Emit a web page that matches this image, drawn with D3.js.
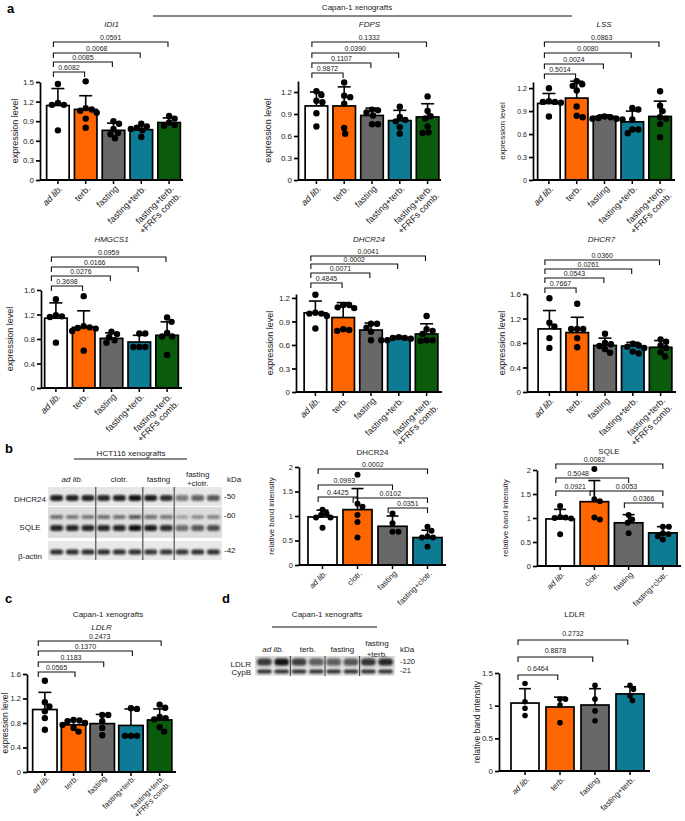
<!DOCTYPE html>
<html><head><meta charset="utf-8">
<script src="https://cdn.jsdelivr.net/npm/d3@7"></script>
<style>body{margin:0;background:#fff} svg{display:block}</style>
</head><body>
<script>
// ================= DATA =================
const catsCapan5 = ["ad lib.","terb.","fasting","fasting+terb.","fasting+terb.\n+FRFs comb."];
const catsCapan4 = ["ad lib.","terb.","fasting","fasting+terb."];
const catsHCT = ["ad lib.","clotr.","fasting","fasting+clotr."];
const barColors = ["#ffffff","#ff6600","#686868","#0c7b93","#0a5b0c"];

// Panel a
const idi1Mean = [1.14,1.08,0.76,0.77,0.88];
const idi1Sd   = [0.26,0.21,0.11,0.06,0.07];
const idi1Pts  = [[1.47,1.15,1.15,1.18,0.76],[1.51,1.10,1.08,1.06,1.03,0.94,0.80],[0.86,0.90,0.78,0.72,0.64,0.70],[0.80,0.82,0.86,0.78,0.76,0.66],[0.98,0.94,0.88,0.83,0.84]];
const idi1P    = ["0.6082","0.0085","0.0068","0.0591"];

const fdpsMean = [1.01,1.01,0.88,0.81,0.86];
const fdpsSd   = [0.19,0.26,0.10,0.14,0.18];
const fdpsPts  = [[1.21,1.16,1.08,1.06,0.91,0.73],[1.33,1.15,1.13,1.04,0.71,0.63],[0.96,0.95,0.92,0.88,0.76,0.76],[1.00,0.86,0.80,0.82,0.72,0.63],[1.14,0.94,0.87,0.84,0.73,0.65,0.64]];
const fdpsP    = ["0.9872","0.1107","0.0390","0.1332"];

const lssMean = [1.00,1.07,0.83,0.76,0.83];
const lssSd   = [0.13,0.22,0.02,0.14,0.20];
const lssPts  = [[1.20,1.03,1.02,1.02,1.01,0.83],[1.25,1.29,1.23,1.17,0.96,0.82,0.84],[0.83,0.82,0.81,0.80,0.79,0.80],[0.94,0.92,0.79,0.61,0.66,0.66],[1.16,0.97,0.90,0.82,0.80,0.73,0.56]];
const lssP    = ["0.5014","0.0024","0.0080","0.0863"];

const hmgMean = [1.14,0.99,0.81,0.75,0.86];
const hmgSd   = [0.25,0.27,0.09,0.11,0.22];
const hmgPts  = [[1.45,1.17,1.16,1.19,0.74],[1.50,1.01,0.99,0.98,0.97,0.93,0.61],[0.92,0.88,0.83,0.78,0.74],[0.89,0.89,0.67,0.67,0.67],[1.15,1.08,0.90,0.84,0.84,0.54]];
const hmgP    = ["0.3698","0.0276","0.0166","0.0959"];

const dh24Mean = [1.01,0.95,0.79,0.68,0.74];
const dh24Sd   = [0.15,0.19,0.09,0.03,0.13];
const dh24Pts  = [[1.24,1.01,1.00,1.00,0.97,0.81],[1.11,1.11,1.08,1.07,0.80,0.78,0.79],[0.87,0.87,0.82,0.77,0.66],[0.70,0.69,0.69,0.68,0.66,0.66],[0.97,0.80,0.78,0.66,0.65,0.66,0.74]];
const dh24P    = ["0.4845","0.0071","0.0002","0.0041"];

const dh7Mean = [1.03,0.97,0.76,0.75,0.73];
const dh7Sd   = [0.30,0.25,0.12,0.06,0.11];
const dh7Pts  = [[1.53,1.13,1.07,0.88,0.72],[1.44,1.03,1.03,1.03,0.88,0.73],[0.95,0.80,0.78,0.75,0.70,0.64],[0.79,0.76,0.74,0.72,0.66,0.63],[0.86,0.82,0.76,0.72,0.65,0.58]];
const dh7P    = ["0.7667","0.0543","0.0261","0.0360"];

// Panel b
const bDhMean = [0.98,1.13,0.79,0.56];
const bDhSd   = [0.14,0.43,0.21,0.15];
const bDhPts  = [[1.13,1.05,1.02,0.97,0.97,0.76],[1.84,1.25,1.19,1.02,0.88,0.56],[1.05,0.85,0.68,0.68],[0.78,0.70,0.56,0.56,0.58,0.37]];
const bDhComp = [[0,1,"0.4425"],[0,2,"0.0993"],[0,3,"0.0002"],[1,3,"0.0102"],[2,3,"0.0351"]];

const bSqMean = [0.98,1.34,0.90,0.69];
const bSqSd   = [0.20,0.44,0.17,0.13];
const bSqPts  = [[1.25,1.02,1.01,1.00,0.99,0.66],[2.02,1.39,1.35,0.97,1.01],[1.06,0.97,0.90,0.68],[0.82,0.82,0.68,0.66,0.62,0.55]];
const bSqComp = [[0,1,"0.0921"],[0,2,"0.5048"],[0,3,"0.0082"],[1,3,"0.0053"],[2,3,"0.0366"]];

// Panel c
const cLdMean = [1.02,0.77,0.79,0.76,0.85];
const cLdSd   = [0.28,0.08,0.15,0.27,0.18];
const cLdPts  = [[1.49,1.14,1.07,0.99,0.88,0.69],[0.85,0.84,0.83,0.80,0.77,0.72,0.66],[0.93,0.93,0.83,0.72,0.60],[1.04,1.03,0.59,0.59,0.59],[1.10,1.05,0.90,0.88,0.86,0.73,0.66]];
const cLdP    = ["0.0565","0.1183","0.1370","0.2473"];

// Panel d
const dLdMean = [1.04,0.98,1.01,1.18];
const dLdSd   = [0.22,0.15,0.25,0.11];
const dLdPts  = [[1.34,1.06,0.96,0.85],[1.10,1.10,1.01,0.74],[1.31,1.10,0.92,0.77],[1.31,1.25,1.15,1.08]];
const dLdComp = [[0,1,"0.6464"],[0,2,"0.8878"],[0,3,"0.2732"]];

// Western blots (relative band darkness per lane)
const blotBGroups = ["ad lib.","clotr.","fasting","fasting\n+clotr."];
const blotBLanes  = [3,3,2,3];
const blotBRowNames = ["DHCR24","SQLE","β-actin"];
const blotBMarkers  = ["-50","-60","-42"];
const blotBDhcr24   = [0.92,0.90,0.90,0.88,0.90,0.97,0.92,0.85,0.50,0.62,0.66];
const blotBSqleUp   = [0.55,0.45,0.45,0.55,0.48,0.65,0.55,0.50,0.25,0.35,0.40];
const blotBSqleLow  = [0.88,0.88,0.88,0.88,0.88,0.98,0.92,0.85,0.55,0.65,0.70];
const blotBActin    = [0.85,0.85,0.85,0.85,0.85,0.85,0.82,0.82,0.82,0.85,0.85];

const blotDGroups = ["ad lib.","terb.","fasting","fasting\n+terb."];
const blotDLanes  = [2,2,2,2];
const blotDRowNames = ["LDLR","CypB"];
const blotDMarkers  = ["-120","-21"];
const blotDLdlr = [0.80,0.97,0.78,0.62,0.62,0.66,0.82,0.88];
const blotDCypb = [0.85,0.85,0.85,0.85,0.85,0.85,0.85,0.85];

// ================= DRAWING =================
const FONT = "'Liberation Sans', Arial, Helvetica, sans-serif";
const TXT = "#222";
const svg = d3.select("body").append("svg").attr("width",685).attr("height",821)
  .style("font-family",FONT);
const defs = svg.append("defs");
defs.append("filter").attr("id","blur").attr("x","-30%").attr("y","-150%").attr("width","160%").attr("height","400%")
  .append("feGaussianBlur").attr("stdDeviation",1.0);

function text(g, x, y, s, size, opts={}) {
  return g.append("text").attr("x",x).attr("y",y).attr("text-anchor",opts.anchor||"middle")
    .style("font-size",size+"px").style("font-style",opts.italic?"italic":"normal")
    .style("font-weight",opts.bold?"bold":"normal").attr("fill",opts.fill||TXT).text(s);
}

function barChart(L, D) {
  const g = svg.append("g");
  const y = d3.scaleLinear().domain([0,L.max]).range([L.yBot,L.yTop]);
  const idx = D.mean.map((_,i)=>i);
  const x = d3.scaleBand().domain(idx).range([L.x0,L.x1]).paddingInner(L.pad).paddingOuter(L.pad/2);
  const bw = x.bandwidth(), cx = i => x(i)+bw/2;

  // title
  text(g,(L.ax+L.axEnd)/2,L.titleY,D.title,L.titleSize,{italic:L.titleItalic});

  // brackets
  const bg = g.append("g");
  D.comp.forEach((c,k)=>{
    const [i,j,p] = c;
    const xa = x(i)+bw*L.lf, xb = x(j)+bw*L.rf, yy = L.brY[k];
    bg.append("path").attr("d",`M${xa},${yy+L.brTick}V${yy}H${xb}V${yy+L.brTick}`)
      .attr("fill","none").attr("stroke","#111").attr("stroke-width",1.1);
    text(bg,(xa+xb)/2+(L.brDx?L.brDx[k]:0),yy-L.labGap,p,L.brSize);
  });

  // bars
  g.append("g").selectAll("rect").data(D.mean).join("rect")
    .attr("x",(d,i)=>x(i)).attr("y",d=>y(d)).attr("width",bw).attr("height",d=>L.yBot-y(d))
    .attr("fill",(d,i)=>D.colors[i]).attr("stroke","#000").attr("stroke-width",1.7);

  // error bars (mean + SD)
  const eg = g.append("g").attr("stroke","#000").attr("stroke-width",1.6);
  D.mean.forEach((m,i)=>{
    const top = y(m+D.sd[i]);
    eg.append("line").attr("x1",cx(i)).attr("x2",cx(i)).attr("y1",y(m)).attr("y2",top);
    eg.append("line").attr("x1",cx(i)-L.cap/2).attr("x2",cx(i)+L.cap/2).attr("y1",top).attr("y2",top);
  });

  // individual points, spread horizontally so they don't overlap
  D.pts.forEach((arr,i)=>{
    const placed=[];
    arr.map(v=>({v,py:y(v)})).sort((a,b)=>a.py-b.py).forEach(p=>{
      let best=0, done=false;
      for (let s=0; s<=bw && !done; s+=0.5) {
        for (const sg of [1,-1]) {
          const off=s*sg;
          if (placed.every(q=>(q.px-off)**2+(q.py-p.py)**2 >= (2*L.r*0.92)**2)) { best=off; done=true; break; }
        }
      }
      p.px=best; placed.push(p);
    });
    g.append("g").selectAll("circle").data(placed).join("circle")
      .attr("cx",p=>cx(i)+p.px).attr("cy",p=>p.py).attr("r",L.r).attr("fill","#000");
  });

  // y axis
  const ya = g.append("g").attr("transform",`translate(${L.ax},0)`)
    .call(d3.axisLeft(y).tickValues(d3.range(0,L.max+1e-9,L.step)).tickSize(L.tk).tickSizeOuter(0).tickPadding(2).tickFormat(d3.format("~g")));
  ya.selectAll("path,line").attr("stroke","#000").attr("stroke-width",1.7);
  ya.selectAll("text").style("font-size",L.tickSize+"px").style("font-family",FONT).attr("fill",TXT);

  // x axis
  g.append("line").attr("x1",L.ax).attr("x2",L.axEnd).attr("y1",L.yBot).attr("y2",L.yBot)
    .attr("stroke","#000").attr("stroke-width",1.9);
  idx.forEach(i=>g.append("line").attr("x1",cx(i)).attr("x2",cx(i)).attr("y1",L.yBot).attr("y2",L.yBot+L.tk)
    .attr("stroke","#000").attr("stroke-width",1.5));
  D.cats.forEach((c,i)=>{
    const t = g.append("text").attr("transform",`translate(${cx(i)+L.lx},${L.yBot+L.ly}) rotate(-45)`)
      .attr("text-anchor","end").style("font-size",L.xSize+"px").attr("fill",TXT);
    c.split("\n").forEach((ln,j)=>t.append("tspan").attr("x",0).attr("dy",j?"1.1em":"0.35em")
      .style("font-style",ln==="ad lib."?"italic":"normal").text(ln));
  });

  // y label
  g.append("text").attr("transform",`translate(${L.ylx},${(L.yTop+L.yBot)/2}) rotate(-90)`)
    .attr("text-anchor","middle").attr("dy","0.35em").style("font-size",L.ylSize+"px").attr("fill",TXT).text(D.ylab);
}

const A = {pad:0.19, tk:4, r:3.2, cap:13, tickSize:8, xSize:9, ylSize:9, titleSize:8, brSize:7, brTick:5,
           labGap:2.5, lf:0.3, rf:0.45, lx:3, ly:7, titleItalic:true};
const comp5 = p => [[0,1,p[0]],[0,2,p[1]],[0,3,p[2]],[0,4,p[3]]];
const EXP = "expression level", RBI = "relative band intensity";

barChart({...A, ax:40, axEnd:183, x0:44, x1:183, yTop:82, yBot:180, max:1.5, step:0.3, titleY:27, brY:[72,62,53,42], ylx:15},
  {title:"IDI1", ylab:EXP, cats:catsCapan5, colors:barColors, mean:idi1Mean, sd:idi1Sd, pts:idi1Pts, comp:comp5(idi1P)});
barChart({...A, ax:298, axEnd:441, x0:302.5, x1:441.5, yTop:81, yBot:180, max:1.35, step:0.3, titleY:27, brY:[73,63,53,42], ylx:268},
  {title:"FDPS", ylab:EXP, cats:catsCapan5, colors:barColors, mean:fdpsMean, sd:fdpsSd, pts:fdpsPts, comp:comp5(fdpsP)});
barChart({...A, ax:533, axEnd:675, x0:535, x1:674, yTop:82, yBot:180, max:1.28, step:0.3, titleY:27, brY:[74,64,53,42], ylx:502, tickSize:7, ylSize:8},
  {title:"LSS", ylab:EXP, cats:catsCapan5, colors:barColors, mean:lssMean, sd:lssSd, pts:lssPts, comp:comp5(lssP)});
barChart({...A, ax:41, axEnd:182, x0:42, x1:181, yTop:290, yBot:388, max:1.6, step:0.4, titleY:242, brY:[286,276,267,257], ylx:10},
  {title:"HMGCS1", ylab:EXP, cats:catsCapan5, colors:barColors, mean:hmgMean, sd:hmgSd, pts:hmgPts, comp:comp5(hmgP)});
barChart({...A, ax:296, axEnd:442, x0:301.5, x1:440.5, yTop:294, yBot:392, max:1.25, step:0.3, titleY:242, brY:[283,273,264,256], ylx:270},
  {title:"DHCR24", ylab:EXP, cats:catsCapan5, colors:barColors, mean:dh24Mean, sd:dh24Sd, pts:dh24Pts, comp:comp5(dh24P)});
barChart({...A, ax:527, axEnd:676, x0:535.5, x1:674.5, yTop:294, yBot:392, max:1.6, step:0.4, titleY:242, brY:[288,278,269,260], ylx:502},
  {title:"DHCR7", ylab:EXP, cats:catsCapan5, colors:barColors, mean:dh7Mean, sd:dh7Sd, pts:dh7Pts, comp:comp5(dh7P)});

const B = {...A, pad:0.17, r:3, cap:12, tickSize:7.5, xSize:8, ylSize:8, titleSize:8, lf:0.35, rf:0.5, titleItalic:false};
barChart({...B, ax:299, axEnd:446, x0:305, x1:445, yTop:467, yBot:565, max:2, step:0.5, titleY:455,
  brY:[497,485,469,498,508], brDx:[0,-11,0,0,0], ylx:271},
  {title:"DHCR24", ylab:RBI, cats:catsHCT, colors:barColors, mean:bDhMean, sd:bDhSd, pts:bDhPts, comp:bDhComp});
barChart({...B, ax:537, axEnd:681, x0:543, x1:680, yTop:470, yBot:566, max:2, step:0.5, titleY:454,
  brY:[491,478,464,491,503], brDx:[0,-14,-15,0,0], ylx:505},
  {title:"SQLE", ylab:RBI, cats:catsHCT, colors:barColors, mean:bSqMean, sd:bSqSd, pts:bSqPts, comp:bSqComp});

barChart({...A, pad:0.15, tickSize:7.5, ylSize:8.5, xSize:7.8, ly:5, ax:27, axEnd:176, x0:30.5, x1:174, yTop:674, yBot:772, max:1.6, step:0.4,
  titleY:630, brY:[672,662,651,641], ylx:5, lf:0.23, rf:0.56},
  {title:"LDLR", ylab:EXP, cats:catsCapan5, colors:barColors, mean:cLdMean, sd:cLdSd, pts:cLdPts, comp:comp5(cLdP)});
barChart({...A, pad:0.2, r:2.8, cap:12, tickSize:8, ylSize:8.5, xSize:8, ax:499, axEnd:650, x0:507.5, x1:647.5, yTop:673, yBot:771, max:1.5, step:0.5,
  titleY:617, brY:[675,657,640], ylx:477, lf:0.25, rf:0.42, labGap:4.5, titleItalic:false},
  {title:"LDLR", ylab:RBI, cats:catsCapan4, colors:barColors, mean:dLdMean, sd:dLdSd, pts:dLdPts, comp:dLdComp});

// ---------- western blots ----------
function blot(L, D) {
  const g = svg.append("g");
  const n = d3.sum(D.lanes);
  const lx = d3.scaleBand().domain(d3.range(n)).range([L.x0,L.x1]).padding(L.lanePad);
  const lbw = lx.bandwidth();
  L.strips.forEach(s=>g.append("rect").attr("x",L.x0).attr("y",s[0]).attr("width",L.x1-L.x0).attr("height",s[1]-s[0]).attr("fill",s[2]));
  L.rows.forEach((row,ri)=>{
    g.append("g").attr("filter","url(#blur)").selectAll("rect").data(D.rows[ri]).join("rect")
      .attr("x",(d,i)=>lx(i)+lbw*0.04).attr("y",row.cy-row.h/2).attr("width",lbw*0.92).attr("height",row.h)
      .attr("rx",row.h/2).attr("fill","#0d0d0d").attr("fill-opacity",d=>d);
  });
  let acc=0;
  D.lanes.slice(0,-1).forEach(k=>{
    acc+=k;
    const xd=(lx(acc-1)+lbw+lx(acc))/2;
    g.append("line").attr("x1",xd).attr("x2",xd).attr("y1",L.strips[0][0]).attr("y2",L.strips[L.strips.length-1][1])
      .attr("stroke","#333").attr("stroke-width",1);
  });
  acc=0;
  D.groups.forEach((name,gi)=>{
    const a=acc, b=acc+D.lanes[gi]-1; acc+=D.lanes[gi];
    const xc=(lx(a)+lx(b)+lbw)/2;
    const lines=name.split("\n");
    if (lines.length===1) text(g,xc,L.gy,name,L.fs,{italic:name==="ad lib."});
    else lines.forEach((ln,j)=>text(g,xc,L.gy2[j],ln,L.fs));
  });
  text(g,L.kx,L.gy,"kDa",L.fs,{anchor:"start"});
  D.rowNames.forEach((nm,i)=>text(g,L.nameX,L.nameY[i],nm,L.fs,{anchor:L.nameAnchor}));
  D.markers.forEach((m,i)=>text(g,L.mx,L.markY[i],m,L.mfs||L.fs,{anchor:"start"}));
}

blot({x0:48, x1:222, lanePad:0.1, fs:8,
      strips:[[487,506,"#e7e7e7"],[507,538,"#dddddd"],[541,560,"#e9e9e9"]],
      rows:[{cy:498,h:6},{cy:517,h:4},{cy:528,h:6},{cy:552,h:5}],
      gy:482, gy2:[477,486], kx:227, nameX:30, nameAnchor:"middle", nameY:[502,530,559], mx:224, markY:[499,518,553]},
     {groups:blotBGroups, lanes:blotBLanes, rowNames:blotBRowNames, markers:blotBMarkers,
      rows:[blotBDhcr24,blotBSqleUp,blotBSqleLow,blotBActin]});
blot({x0:255, x1:395, lanePad:0.08, fs:8, mfs:7.5,
      strips:[[656,668,"#dadada"],[668,676,"#e8e8e8"]],
      rows:[{cy:662,h:7},{cy:671.5,h:4}],
      gy:652, gy2:[646,657], kx:400, nameX:251, nameAnchor:"end", nameY:[667,675], mx:400, markY:[664,673]},
     {groups:blotDGroups, lanes:blotDLanes, rowNames:blotDRowNames, markers:blotDMarkers,
      rows:[blotDLdlr,blotDCypb]});

// ---------- headers & panel letters ----------
const hg = svg.append("g");
text(hg,7,13,"a",13,{bold:true,anchor:"start",fill:"#000"});
text(hg,5,453,"b",13,{bold:true,anchor:"start",fill:"#000"});
text(hg,5,603,"c",13,{bold:true,anchor:"start",fill:"#000"});
text(hg,222,603,"d",13,{bold:true,anchor:"start",fill:"#000"});
text(hg,357,10,"Capan-1 xenografts",8);
hg.append("line").attr("x1",153).attr("x2",572).attr("y1",16).attr("y2",16).attr("stroke","#111").attr("stroke-width",1.2);
text(hg,131,456,"HCT116 xenografts",8);
hg.append("line").attr("x1",74).attr("x2",187).attr("y1",459).attr("y2",459).attr("stroke","#111").attr("stroke-width",1.2);
text(hg,108,617,"Capan-1 xenografts",8);
text(hg,327,617,"Capan-1 xenografts",8);
hg.append("line").attr("x1",272).attr("x2",377).attr("y1",627).attr("y2",627).attr("stroke","#111").attr("stroke-width",1.2);
</script>
</body></html>
